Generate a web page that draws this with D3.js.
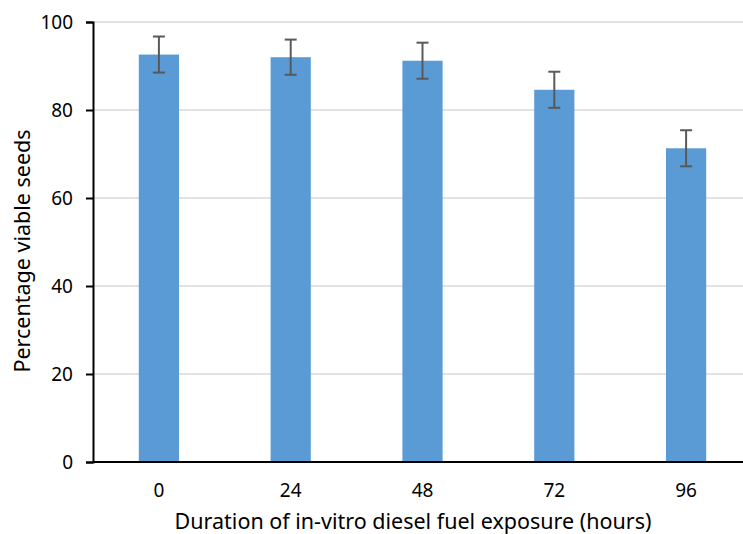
<!DOCTYPE html>
<html>
<head>
<meta charset="utf-8">
<script src="https://cdn.jsdelivr.net/npm/d3@7"></script>
<style>
  body { margin: 0; background: #fff; }
  svg { display: block; }
</style>
</head>
<body>
<script>
const hours = ["0", "24", "48", "72", "96"];
const viable = [92.6, 92.0, 91.2, 84.6, 71.3];
const errors = [4.1, 4.0, 4.1, 4.1, 4.1];
const yTicks = [0, 20, 40, 60, 80, 100];

const W = 743, H = 534;
const margin = {top: 22, left: 93, bottom: 72};
const plotBottom = H - margin.bottom;

const svg = d3.select("body").append("svg")
    .attr("width", W)
    .attr("height", H)
    .style("font-family", "'Noto Sans', sans-serif");

const y = d3.scaleLinear().domain([0, 100]).range([plotBottom, margin.top]);
const x = d3.scaleBand().domain(hours).range([margin.left, 752]).paddingInner(0.695).paddingOuter(0.3475);

// gridlines
svg.append("g")
    .selectAll("line")
    .data(yTicks.slice(1))
    .enter()
    .append("line")
    .attr("x1", margin.left)
    .attr("x2", W)
    .attr("y1", d => y(d))
    .attr("y2", d => y(d))
    .attr("stroke", "#d9d9d9")
    .attr("stroke-width", 1.5);

// bars
svg.append("g")
    .selectAll("rect")
    .data(hours)
    .enter()
    .append("rect")
    .attr("x", d => x(d))
    .attr("y", (d, i) => y(viable[i]))
    .attr("width", x.bandwidth())
    .attr("height", (d, i) => y(0) - y(viable[i]))
    .attr("fill", "#5b9bd5");

// error bars
const eb = svg.append("g").attr("stroke", "#595959").attr("stroke-width", 2);
hours.forEach((h, i) => {
    const cx = x(h) + x.bandwidth() / 2;
    eb.append("line").attr("x1", cx).attr("x2", cx)
        .attr("y1", y(viable[i] + errors[i])).attr("y2", y(viable[i] - errors[i]));
    [viable[i] + errors[i], viable[i] - errors[i]].forEach(v => {
        eb.append("line").attr("x1", cx - 6).attr("x2", cx + 6)
            .attr("y1", y(v)).attr("y2", y(v));
    });
});

// y axis
const yAxis = svg.append("g")
    .attr("transform", "translate(" + margin.left + ",0)")
    .call(d3.axisLeft(y).tickValues(yTicks).tickSize(7).tickPadding(13));
yAxis.select(".domain").attr("stroke", "#000").attr("stroke-width", 2);
yAxis.selectAll(".tick line").attr("stroke", "#000").attr("stroke-width", 2);
yAxis.selectAll("text").attr("font-size", "19px").attr("fill", "#000")
    .style("font-family", "'Noto Sans', sans-serif");

// x axis
const xAxis = svg.append("g")
    .attr("transform", "translate(0," + plotBottom + ")")
    .call(d3.axisBottom(x).tickSize(0).tickPadding(22));
xAxis.select(".domain").attr("d", "M" + margin.left + ",0H" + W).attr("stroke", "#000").attr("stroke-width", 2);
xAxis.selectAll("text").attr("font-size", "19px").attr("fill", "#000")
    .style("font-family", "'Noto Sans', sans-serif");

// titles
svg.append("text")
    .attr("x", 413)
    .attr("y", 529)
    .attr("text-anchor", "middle")
    .attr("font-size", "21.5px")
    .attr("fill", "#000")
    .text("Duration of in-vitro diesel fuel exposure (hours)");

svg.append("text")
    .attr("transform", "translate(30," + ((margin.top + plotBottom) / 2 + 9) + ") rotate(-90)")
    .attr("text-anchor", "middle")
    .attr("font-size", "21.5px")
    .attr("fill", "#000")
    .text("Percentage viable seeds");
</script>
</body>
</html>
